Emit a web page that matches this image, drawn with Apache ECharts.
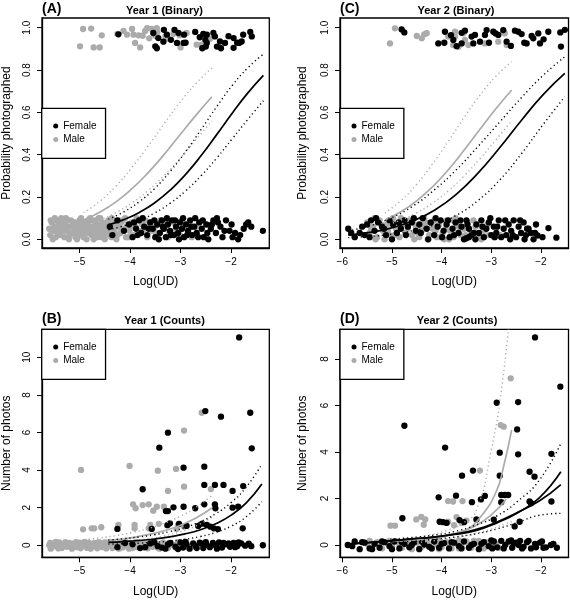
<!DOCTYPE html>
<html>
<head>
<meta charset="utf-8">
<script src="https://cdn.jsdelivr.net/npm/echarts@6/dist/echarts.min.js"></script>
<style>html,body{margin:0;padding:0;background:#fff}#c{width:570px;height:600px}</style>
</head>
<body>
<div id="c"></div>
<script>
// ---------------- DATA ----------------
const sexes = ['Female', 'Male'];
const ticksX_Y1 = [-5, -4, -3, -2];
const ticksX_Y2 = [-6, -5, -4, -3, -2];
const ticksY_bin = [0, 0.2, 0.4, 0.6, 0.8, 1.0];
const ticksY_B = [0, 2, 4, 6, 8, 10];
const ticksY_D = [0, 2, 4, 6, 8];

// Panel A: Year 1 (Binary)
const A_female = [
[-3.54,0.975],[-3.33,0.99],[-3.27,0.967],[-3.44,0.951],[-3.19,0.943],[-3.04,0.975],[-2.93,0.967],[-3.07,0.928],[-2.94,0.928],[-2.71,0.98],[-2.55,0.971],[-2.48,0.967],[-2.35,0.975],[-2.32,0.959],[-2.51,0.943],[-2.48,0.928],[-2.22,0.935],[-2.12,0.928],[-1.95,0.951],[-1.84,0.928],[-1.76,0.967],[-1.79,0.935],[-1.62,0.98],[-1.59,0.959],[-3.50,0.912],[-3.47,0.903],[-2.28,0.911],[-2.20,0.903],[-1.95,0.905],[-2.57,0.903],[-2.50,0.911],[-4.23,0.969],[-3.34,0.934],[-2.90,0.929],[-1.88,0.929],[-3.12,0.99],[-2.62,0.955],[-2.05,0.96],
[-4.40,0.06],[-4.35,0.02],[-4.25,0.09],[-4.12,0.04],[-4.02,0.07],[-3.95,0.01],[-3.88,0.05],[-3.82,0.09],[-3.78,0.03],[-3.72,0.06],[-3.66,0.02],[-3.60,0.08],[-3.55,0.05],[-3.50,0.01],[-3.46,0.07],[-3.41,0.03],[-3.37,0.09],[-3.33,0.05],[-3.29,0.01],[-3.25,0.07],[-3.21,0.04],[-3.17,0.09],[-3.13,0.02],[-3.09,0.06],[-3.05,0.03],[-3.01,0.08],[-2.97,0.05],[-2.93,0.01],[-2.89,0.07],[-2.85,0.04],[-2.81,0.09],[-2.77,0.02],[-2.73,0.06],[-2.68,0.03],[-2.63,0.08],[-2.58,0.05],[-2.54,0.01],[-2.49,0.07],[-2.45,0.00],[-2.40,0.05],[-2.35,0.09],[-2.30,0.03],[-2.26,0.08],[-2.21,0.06],[-2.17,0.01],[-2.10,0.09],[-2.03,0.04],[-1.97,0.01],[-1.92,0.03],[-1.86,0.00],[-1.82,0.02],[-1.75,0.05],[-1.70,0.07],[-1.66,0.08],[-1.37,0.04],
[-3.92,0.08],[-3.85,0.02],[-3.75,0.10],[-3.63,0.05],[-3.52,0.09],[-3.43,0.00],[-3.35,0.06],[-3.27,0.10],[-3.19,0.02],[-3.11,0.09],[-3.03,0.00],[-2.95,0.10],[-2.87,0.02],[-2.79,0.06],[-2.71,0.10],[-2.65,0.01],[-2.56,0.09],[-2.47,0.03],[-2.38,0.07],[-2.28,0.10],[-2.13,0.04],[-1.99,0.07],[-1.60,0.06]
];
const A_male = [
[-4.93,0.994],[-4.77,0.996],[-4.56,0.964],[-4.25,0.971],[-3.96,0.994],[-3.93,0.967],[-3.83,0.964],[-3.66,0.998],[-3.57,0.994],[-3.47,0.998],[-3.46,0.978],[-3.75,0.962],[-3.14,0.971],[-3.02,0.964],[-2.88,0.975],[-2.42,0.948],[-4.99,0.912],[-4.72,0.907],[-4.60,0.907],[-3.90,0.928],[-3.24,0.948],[-2.68,0.92],[-3.80,0.907],[-3.00,0.907],[-4.06,0.967],[-3.50,0.962],[-2.58,0.92],[-3.30,0.96],[-4.13,0.985],[-3.70,0.985],[-3.62,0.95],
[-5.60,0.05],[-5.58,0.02],[-5.55,0.08],[-5.52,0.04],[-5.50,0.06],[-5.47,0.01],[-5.45,0.09],[-5.43,0.03],[-5.40,0.06],[-5.38,0.02],[-5.35,0.08],[-5.33,0.05],[-5.30,0.01],[-5.28,0.07],[-5.25,0.04],[-5.22,0.09],[-5.20,0.02],[-5.18,0.06],[-5.15,0.03],[-5.13,0.08],[-5.10,0.05],[-5.08,0.01],[-5.05,0.07],[-5.03,0.04],[-5.00,0.09],[-4.98,0.02],[-4.96,0.06],[-4.93,0.03],[-4.91,0.08],[-4.88,0.05],[-4.86,0.00],[-4.84,0.07],[-4.81,0.04],[-4.79,0.10],[-4.76,0.02],[-4.74,0.06],[-4.71,0.03],[-4.69,0.09],[-4.66,0.05],[-4.64,0.01],[-4.61,0.07],[-4.58,0.04],[-4.55,0.08],[-4.52,0.02],[-4.49,0.06],[-4.46,0.03],[-4.43,0.09],[-4.40,0.05],[-4.37,0.01],[-4.34,0.07],[-4.31,0.04],[-4.28,0.08],[-4.25,0.02],[-4.22,0.06],[-4.19,0.03],[-4.15,0.09],[-4.12,0.05],[-4.08,0.01],[-4.05,0.07],[-4.01,0.04],[-3.97,0.08],[-3.93,0.02],[-3.89,0.06],[-3.85,0.09],[-3.80,0.03],[-3.76,0.07],[-3.71,0.05],[-3.66,0.01],[-3.61,0.08],[-3.56,0.04],[-3.51,0.06],[-3.45,0.02],[-3.40,0.09],[-3.34,0.05],[-3.28,0.07],[-3.22,0.03],[-3.15,0.08],[-3.08,0.05],[-3.01,0.02],[-2.94,0.07],[-2.86,0.04],[-2.78,0.01],[-2.70,0.06],
[-5.42,0.07],[-5.12,0.03],[-4.95,0.08],[-4.72,0.00],[-4.62,0.10],[-4.47,0.04],[-4.30,0.02],[-4.18,0.08],[-5.27,0.10],[-5.05,0.00],[-4.83,0.09],[-4.56,0.01],[-3.70,0.09],[-3.25,0.01],[-2.98,0.09],[-2.82,0.08],[-2.73,0.02],
[-5.57,0.09],[-5.53,0.00],[-5.49,0.10],[-5.44,0.05],[-5.39,0.03],[-5.36,0.10],[-5.31,0.04],[-5.26,0.06],[-5.21,0.00],[-5.17,0.09],[-5.14,0.06],[-5.09,0.08],[-5.04,0.03],[-5.01,0.05],[-4.97,0.10],[-4.92,0.01],[-4.89,0.07],[-4.85,0.03],[-4.80,0.06],[-4.77,0.09],[-4.73,0.04],[-4.68,0.07],[-4.63,0.03],[-4.59,0.10],[-4.54,0.06],[-4.50,0.00],[-4.45,0.08],[-4.41,0.02],[-4.36,0.10],[-4.32,0.05],[-4.27,0.00],[-4.23,0.09],[-4.17,0.05],[-4.10,0.10],[-4.03,0.01],[-3.95,0.06],[-3.87,0.10],[-3.78,0.04],[-3.63,0.06],[-3.48,0.03],[-3.35,0.08],[-3.12,0.04]
];
const A_femFit = [[-4.43,0.068],[-4.123,0.093],[-3.816,0.127],[-3.509,0.173],[-3.202,0.233],[-2.895,0.308],[-2.588,0.397],[-2.281,0.496],[-1.974,0.597],[-1.667,0.692],[-1.36,0.775]];
const A_femUp  = [[-4.43,0.095],[-4.123,0.130],[-3.816,0.178],[-3.509,0.241],[-3.202,0.322],[-2.895,0.416],[-2.588,0.521],[-2.281,0.628],[-1.974,0.728],[-1.667,0.811],[-1.36,0.875]];
const A_femLo  = [[-4.43,0.045],[-4.123,0.064],[-3.816,0.090],[-3.509,0.125],[-3.202,0.171],[-2.895,0.230],[-2.588,0.302],[-2.281,0.385],[-1.974,0.476],[-1.667,0.567],[-1.36,0.655]];
const A_malFit = [[-4.92,0.091],[-4.6025,0.128],[-4.285,0.176],[-3.9675,0.238],[-3.65,0.313],[-3.3325,0.399],[-3.015,0.493],[-2.6975,0.586],[-2.38,0.674]];
const A_malUp  = [[-4.92,0.125],[-4.6025,0.179],[-4.285,0.250],[-3.9675,0.338],[-3.65,0.438],[-3.3325,0.544],[-3.015,0.646],[-2.6975,0.736],[-2.38,0.810]];
const A_malLo  = [[-4.92,0.065],[-4.6025,0.091],[-4.285,0.126],[-3.9675,0.171],[-3.65,0.229],[-3.3325,0.300],[-3.015,0.381],[-2.6975,0.470],[-2.38,0.560]];

// Panel C: Year 2 (Binary)
const C_female = [
[-4.805,0.992],[-4.751,0.978],[-4.067,0.926],[-3.946,0.929],[-3.933,0.981],[-3.812,0.965],[-3.765,0.942],[-3.698,0.913],[-3.597,0.976],[-3.530,0.986],[-3.597,0.926],[-3.396,0.958],[-3.329,0.966],[-3.362,0.926],[-3.228,0.934],[-3.128,0.966],[-3.094,0.989],[-3.047,0.929],[-2.960,0.981],[-2.913,0.973],[-2.860,0.966],[-2.759,0.989],[-2.692,0.934],[-2.605,0.914],[-2.524,0.986],[-2.457,0.981],[-2.390,0.970],[-2.336,0.929],[-2.289,0.926],[-2.188,0.961],[-2.155,0.950],[-2.054,0.973],[-2.020,0.926],[-1.947,0.945],[-1.853,0.981],[-1.611,0.978],[-1.598,0.911],[-1.52,0.99],
[-5.88,0.05],[-5.75,0.01],[-5.65,0.03],[-5.55,0.02],[-5.50,0.07],[-5.42,0.09],[-5.35,0.04],[-5.28,0.08],[-5.20,0.06],[-5.12,0.02],[-5.05,0.09],[-4.98,0.07],[-4.90,0.03],[-4.82,0.05],[-4.75,0.09],[-4.68,0.06],[-4.60,0.08],[-4.52,0.04],[-4.45,0.07],[-4.38,0.10],[-4.30,0.05],[-4.22,0.08],[-4.15,0.02],[-4.08,0.06],[-4.02,0.09],[-3.96,0.04],[-3.90,0.07],[-3.84,0.01],[-3.78,0.05],[-3.72,0.08],[-3.66,0.03],[-3.60,0.06],[-3.55,0.00],[-3.50,0.005],[-3.45,0.01],[-3.40,0.02],[-3.35,0.03],[-3.50,0.09],[-3.45,0.05],[-3.30,0.07],[-3.25,0.03],[-3.20,0.09],[-3.15,0.01],[-3.10,0.05],[-3.05,0.08],[-3.00,0.02],[-2.95,0.06],[-2.90,0.03],[-2.85,0.09],[-2.80,0.01],[-2.75,0.05],[-2.70,0.02],[-2.65,0.07],[-2.60,0.04],[-2.55,0.09],[-2.50,0.01],[-2.45,0.06],[-2.40,0.03],[-2.35,0.08],[-2.30,0.02],[-2.25,0.05],[-2.20,0.03],[-2.15,0.00],[-2.10,0.07],[-2.07,0.018],[-1.85,0.053],[-1.69,0.008],
[-5.82,0.03],[-5.60,0.06],[-5.45,0.01],[-5.32,0.10],[-5.16,0.05],[-5.00,0.00],[-4.86,0.08],[-4.72,0.02],[-4.56,0.10],[-4.42,0.03],[-4.27,0.00],[-4.12,0.10],[-3.99,0.01],[-3.87,0.09],[-3.75,0.02],[-3.62,0.09],[-3.48,0.07],[-3.32,0.00],[-3.18,0.06],[-3.02,0.10],[-2.88,0.06],[-2.72,0.09],[-2.57,0.02],[-2.42,0.09],[-2.28,0.05],[-2.12,0.03],[-1.97,0.01],[-2.33,0.00],[-2.62,0.00],[-2.93,0.01]
];
const C_male = [
[-5.04,0.926],[-4.94,0.997],[-4.50,0.961],[-4.40,0.95],[-4.35,0.969],[-4.30,0.974],[-3.87,0.958],[-3.77,0.918],[-3.73,0.981],[-3.66,0.910],[-3.56,0.974],[-3.53,0.942],[-3.46,0.918],[-3.13,0.926],[-2.86,0.934],[-2.76,0.981],[-2.73,0.973],[-2.69,0.918],[-3.73,0.958],
[-5.50,0.08],[-5.45,0.03],[-5.38,0.06],[-5.30,0.01],[-5.25,0.09],[-5.18,0.04],[-5.10,0.07],[-5.05,0.02],[-4.98,0.10],[-4.92,0.05],[-4.85,0.01],[-4.78,0.07],[-4.72,0.03],[-4.65,0.09],[-4.60,0.02],[-4.52,0.06],[-4.45,0.01],[-4.40,0.04],[-4.32,0.08],[-4.25,0.02],[-4.18,0.05],[-4.10,0.01],[-4.05,0.07],[-3.98,0.03],[-3.90,0.09],[-3.83,0.04],[-3.76,0.01],[-3.70,0.07],[-3.62,0.02],[-3.55,0.05],[-3.48,0.08],[-3.40,0.03],[-3.32,0.06],[-3.25,0.01],[-3.15,0.04],[-3.05,0.02],[-2.95,0.01],[-5.35,0.10],[-5.15,0.00],[-4.88,0.08],[-4.55,0.00],[-4.35,0.10],[-4.15,0.09],[-3.95,0.00],[-3.72,0.10],
[-5.42,0.05],[-5.33,0.00],[-5.22,0.07],[-5.08,0.04],[-4.95,0.02],[-4.82,0.10],[-4.68,0.05],[-4.58,0.08],[-4.48,0.03],[-4.38,0.07],[-4.28,0.00],[-4.20,0.07],[-4.12,0.04],[-4.02,0.01],[-3.92,0.05],[-3.85,0.00],[-3.78,0.09],[-3.66,0.06],[-3.52,0.02],[-3.36,0.09],[-3.20,0.00],[-3.08,0.07],[-2.82,0.02]
];
const C_femFit = [[-5.88,0.020],[-5.444,0.033],[-5.008,0.054],[-4.572,0.088],[-4.136,0.139],[-3.70,0.214],[-3.264,0.314],[-2.828,0.434],[-2.392,0.563],[-1.956,0.684],[-1.52,0.784]];
const C_femUp  = [[-5.88,0.040],[-5.444,0.064],[-5.008,0.102],[-4.572,0.158],[-4.136,0.236],[-3.70,0.330],[-3.264,0.440],[-2.828,0.555],[-2.392,0.670],[-1.956,0.775],[-1.52,0.863]];
const C_femLo  = [[-5.88,0.008],[-5.444,0.014],[-5.008,0.024],[-4.572,0.041],[-4.136,0.069],[-3.70,0.114],[-3.264,0.184],[-2.828,0.281],[-2.392,0.405],[-1.956,0.543],[-1.52,0.674]];
const C_malFit = [[-5.14,0.091],[-4.821,0.130],[-4.503,0.182],[-4.184,0.248],[-3.865,0.329],[-3.546,0.422],[-3.228,0.520],[-2.909,0.617],[-2.59,0.706]];
const C_malUp  = [[-5.14,0.125],[-4.821,0.183],[-4.503,0.260],[-4.184,0.356],[-3.865,0.464],[-3.546,0.576],[-3.228,0.681],[-2.909,0.770],[-2.59,0.840]];
const C_malLo  = [[-5.14,0.065],[-4.821,0.091],[-4.503,0.126],[-4.184,0.171],[-3.865,0.229],[-3.546,0.300],[-3.228,0.381],[-2.909,0.470],[-2.59,0.560]];

// Panel B: Year 1 (Counts)
const B_female = [
[-1.84,11.06],[-2.51,7.14],[-1.62,7.05],[-2.20,6.84],[-3.25,5.99],[-3.42,5.19],[-1.59,5.16],[-2.94,4.13],[-2.53,4.18],[-3.75,2.98],[-2.53,3.21],[-2.32,3.21],[-2.15,3.21],[-1.97,2.89],[-1.76,3.15],[-3.29,1.82],[-3.25,1.82],[-3.14,2.02],[-2.94,2.05],[-2.71,1.97],[-2.53,2.18],[-2.32,2.18],[-2.31,1.97],[-1.97,2.0],[-1.86,2.05],[-4.25,0.87],[-3.57,0.87],[-3.21,1.17],[-3.03,1.14],[-2.88,1.03],[-2.65,1.03],[-2.48,1.08],[-2.41,0.99],[-2.34,0.9],[-2.26,0.86],[-1.77,0.9],[-3.26,1.07],[-2.57,1.15],
[-4.25,-0.1],[-3.95,0.05],[-3.8,-0.15],[-3.6,0.1],[-3.45,-0.05],[-3.3,-0.18],[-3.2,0.12],[-3.1,-0.08],[-3.0,0.15],[-2.95,-0.12],[-2.88,0.05],[-2.82,-0.18],[-2.75,0.1],[-2.7,-0.05],[-2.62,0.14],[-2.55,-0.15],[-2.48,0.02],[-2.42,-0.1],[-2.36,0.12],[-2.3,-0.02],[-2.24,0.15],[-2.18,-0.12],[-2.1,0.05],[-2.02,-0.08],[-1.95,0.13],[-1.88,-0.05],[-1.8,0.1],[-1.72,-0.02],[-1.65,0.08],[-1.37,0.0],[-3.37,-0.12],[-3.05,-0.2],[-2.58,0.08],[-2.15,0.12],[-1.92,-0.1],
[-4.1,0.12],[-3.7,-0.1],[-3.52,0.16],[-3.25,0.04],[-2.9,0.18],[-2.68,-0.15],[-2.5,0.16],[-2.28,-0.18],[-2.05,0.1],[-1.85,0.15],[-1.6,-0.05]
];
const B_male = [
[-2.58,7.05],[-2.93,6.10],[-4.97,4.01],[-4.01,4.22],[-3.45,3.97],[-3.09,4.06],[-2.93,3.12],[-3.25,2.89],[-2.40,2.99],[-3.94,2.18],[-3.89,1.97],[-3.75,2.14],[-3.63,2.18],[-3.54,1.84],[-3.47,2.05],[-3.33,2.05],[-4.93,0.85],[-4.76,0.9],[-4.71,0.9],[-4.57,0.96],[-4.23,1.08],[-3.91,1.08],[-3.91,0.9],[-3.60,1.08],[-3.43,1.14],[-3.63,0.9],[-3.08,0.86],[-2.93,0.99],[-3.05,1.08],
[-5.6,0.0],[-5.55,-0.12],[-5.5,0.1],[-5.45,-0.05],[-5.4,0.15],[-5.35,-0.15],[-5.3,0.05],[-5.25,-0.08],[-5.2,0.12],[-5.15,-0.18],[-5.1,0.02],[-5.05,-0.1],[-5.0,0.14],[-4.95,-0.03],[-4.9,0.18],[-4.85,-0.14],[-4.8,0.06],[-4.75,-0.06],[-4.7,0.12],[-4.65,-0.16],[-4.6,0.03],[-4.55,-0.1],[-4.5,0.15],[-4.45,-0.02],[-4.4,0.08],[-4.35,-0.15],[-4.3,0.1],[-4.25,-0.05],[-4.2,0.16],[-4.15,-0.12],[-4.1,0.04],[-4.05,-0.08],[-4.0,0.12],[-3.95,-0.15],[-3.9,0.02],[-3.85,-0.1],[-3.8,0.15],[-3.75,-0.04],[-3.7,0.08],[-3.65,-0.16],[-3.6,0.05],[-3.55,-0.08],[-3.5,0.12],[-3.45,-0.13],[-3.4,0.03],[-3.3,-0.05],[-3.2,0.1],[-3.1,-0.12],[-3.0,0.06],[-2.9,-0.08],[-5.58,0.12],[-5.42,-0.17],[-5.28,0.17],[-5.12,0.09],[-4.98,-0.16],[-4.82,0.14],[-4.68,-0.02],[-4.52,0.08],[-4.38,0.17],[-4.22,-0.18],[-4.08,0.16],[-3.92,0.09],
[-5.57,-0.18],[-5.47,0.18],[-5.32,-0.02],[-5.22,0.0],[-5.07,0.17],[-4.92,0.08],[-4.78,-0.18],[-4.62,0.17],[-4.47,-0.17],[-4.32,0.0],[-4.18,0.02],[-4.02,-0.18],[-3.88,0.18],[-3.72,-0.12],[-3.58,0.18],[-3.42,-0.18],[-3.35,0.15],[-3.25,-0.15],[-3.15,0.02],[-3.05,0.16]
];
const B_femFit = [[-4.43,0.150],[-4.126,0.194],[-3.822,0.253],[-3.518,0.334],[-3.214,0.447],[-2.91,0.604],[-2.606,0.827],[-2.302,1.145],[-1.998,1.603],[-1.694,2.272],[-1.39,3.261]];
const B_femUp  = [[-4.43,0.280],[-4.126,0.350],[-3.822,0.441],[-3.518,0.562],[-3.214,0.727],[-2.91,0.950],[-2.606,1.256],[-2.302,1.681],[-1.998,2.275],[-1.694,3.113],[-1.39,4.318]];
const B_femLo  = [[-4.43,0.060],[-4.126,0.082],[-3.822,0.114],[-3.518,0.159],[-3.214,0.225],[-2.91,0.322],[-2.606,0.468],[-2.302,0.686],[-1.998,1.017],[-1.694,1.527],[-1.39,2.321]];
const B_malFit = [[-4.9,0.160],[-4.585,0.219],[-4.27,0.300],[-3.955,0.411],[-3.64,0.563],[-3.325,0.771],[-3.01,1.055],[-2.695,1.446],[-2.38,1.980]];
const B_malUp  = [[-4.9,0.300],[-4.585,0.394],[-4.27,0.517],[-3.955,0.679],[-3.64,0.892],[-3.325,1.171],[-3.01,1.537],[-2.695,2.020],[-2.38,2.651]];
const B_malLo  = [[-4.9,0.080],[-4.585,0.115],[-4.27,0.166],[-3.955,0.239],[-3.64,0.344],[-3.325,0.496],[-3.01,0.714],[-2.695,1.027],[-2.38,1.480]];

// Panel D: Year 2 (Counts)
const D_female = [
[-2.12,8.93],[-1.61,6.81],[-2.89,6.12],[-2.46,6.15],[-4.75,5.13],[-2.48,4.97],[-3.93,4.19],[-2.83,3.97],[-2.46,3.9],[-1.79,3.92],[-3.59,2.98],[-3.37,3.2],[-2.83,2.98],[-2.23,3.15],[-2.13,2.94],[-4.06,2.05],[-3.71,2.12],[-3.39,1.84],[-3.21,1.96],[-3.13,2.11],[-2.80,2.15],[-2.73,2.15],[-2.66,2.15],[-2.80,1.84],[-2.23,1.87],[-1.79,1.87],[-4.79,1.15],[-4.04,1.0],[-3.97,0.98],[-3.64,1.07],[-3.55,0.98],[-2.95,1.09],[-2.53,0.8],[-2.43,1.0],[-3.9,0.95],[-3.3,1.1],[-2.2,1.8],
[-5.89,0.0],[-5.75,0.15],[-5.65,-0.18],[-5.55,0.1],[-5.45,-0.15],[-5.35,0.05],[-5.25,-0.12],[-5.15,0.12],[-5.05,-0.05],[-4.95,0.15],[-4.85,-0.15],[-4.75,0.05],[-4.65,-0.1],[-4.55,0.12],[-4.45,-0.18],[-4.35,0.02],[-4.25,-0.08],[-4.15,0.15],[-4.05,-0.12],[-3.95,0.08],[-3.85,-0.15],[-3.75,0.1],[-3.65,-0.05],[-3.55,0.15],[-3.45,-0.12],[-3.35,0.05],[-3.25,-0.18],[-3.15,0.12],[-3.05,-0.05],[-2.95,0.15],[-2.88,-0.1],[-2.8,0.18],[-2.72,0.0],[-2.65,0.15],[-2.58,-0.12],[-2.5,0.1],[-2.42,0.18],[-2.35,-0.08],[-2.28,0.12],[-2.2,-0.15],[-2.12,0.05],[-1.98,0.15],[-1.9,-0.1],[-1.8,0.0],[-1.68,-0.12],[-3.4,0.0],[-3.0,0.2],[-2.6,0.2],[-2.45,0.0],
[-5.8,-0.05],[-5.6,0.12],[-5.4,-0.18],[-5.2,0.15],[-5.0,-0.18],[-4.8,0.12],[-4.6,0.0],[-4.4,0.15],[-4.2,-0.15],[-4.0,0.05],[-3.8,0.12],[-3.6,-0.15],[-3.2,0.05],[-2.98,-0.15],[-2.75,-0.15],[-2.55,0.05],[-2.38,-0.15],[-2.25,0.18],[-2.1,-0.1],[-2.02,0.1],[-1.95,-0.12],[-1.75,0.05]
];
const D_male = [
[-2.61,7.17],[-2.81,5.16],[-2.75,5.09],[-3.23,3.2],[-3.87,1.89],[-3.77,1.87],[-3.58,1.89],[-5.03,0.83],[-4.94,0.83],[-4.51,1.1],[-4.41,1.21],[-4.33,1.1],[-4.36,0.87],[-3.87,1.0],[-3.7,1.2],[-3.6,0.95],[-3.5,1.05],[-3.75,0.85],
[-5.5,0.05],[-5.4,-0.1],[-5.3,0.12],[-5.2,-0.15],[-5.1,0.08],[-5.0,-0.05],[-4.9,0.15],[-4.8,-0.12],[-4.7,0.05],[-4.6,-0.18],[-4.5,0.1],[-4.4,-0.08],[-4.3,0.15],[-4.2,-0.15],[-4.1,0.02],[-4.0,-0.1],[-3.9,0.12],[-3.8,-0.15],[-3.7,0.05],[-3.6,-0.08],[-3.5,0.15],[-3.4,-0.12],[-3.3,0.1],[-3.2,-0.05],[-3.1,0.12],[-3.0,-0.1],[-2.9,0.05],[-4.45,0.2],[-4.05,0.18],[-3.65,0.2],[-3.25,0.18],[-2.95,0.15],
[-5.45,0.18],[-5.25,0.0],[-5.05,0.18],[-4.85,0.02],[-4.65,0.1],[-4.45,-0.15],[-4.25,0.05],[-4.05,-0.18],[-3.85,0.05],[-3.65,-0.15],[-3.45,0.02],[-3.35,0.18],[-3.15,-0.15],[-3.05,0.02],[-2.85,-0.12]
];
const D_femFit1 = [[-5.89,0.03],[-5.461,0.10],[-5.032,0.18],[-4.603,0.26],[-4.174,0.34],[-3.745,0.45],[-3.316,0.62],[-2.887,0.95],[-2.458,1.40],[-2.029,2.04],[-1.60,3.15]];
const D_femFit2 = [[-5.89,0.05],[-5.461,0.11],[-5.032,0.18],[-4.603,0.26],[-4.174,0.34],[-3.745,0.47],[-3.316,0.66],[-2.887,0.99],[-2.458,1.42],[-2.029,1.90],[-1.60,2.60]];
const D_femUp   = [[-5.032,0.25],[-4.603,0.32],[-4.174,0.42],[-3.745,0.58],[-3.316,0.85],[-2.887,1.25],[-2.458,1.90],[-2.029,2.80],[-1.60,4.37]];
const D_femLo   = [[-5.032,0.10],[-4.603,0.16],[-4.174,0.24],[-3.745,0.34],[-3.316,0.48],[-2.887,0.69],[-2.458,0.98],[-2.029,1.28],[-1.60,1.36]];
const D_malFit1 = [[-5.0,0.15],[-4.7,0.19],[-4.4,0.24],[-4.1,0.31],[-3.8,0.43],[-3.5,0.65],[-3.2,1.25],[-2.9,2.30],[-2.75,3.40],[-2.59,4.95]];
const D_malFit2 = [[-4.5,0.20],[-4.2,0.30],[-3.9,0.42],[-3.6,0.58],[-3.3,0.85],[-3.0,1.30],[-2.7,1.97]];
const D_malUp   = [[-4.5,0.30],[-4.2,0.45],[-3.9,0.62],[-3.6,0.90],[-3.3,1.50],[-3.0,4.10],[-2.8,6.60],[-2.6,10.5]];
const D_malLo   = [[-4.5,0.10],[-4.2,0.17],[-3.9,0.25],[-3.6,0.36],[-3.3,0.50],[-3.0,0.68],[-2.7,0.92],[-2.59,1.00]];

// ---------------- CHART ----------------
const FONT = '"Liberation Sans", Arial, Helvetica, sans-serif';
const BLACK = '#000000', GRAY = '#ababab';
const fmtX = v => (v < 0 ? '\u2212' + Math.abs(v) : String(v));

const panels = [
  { box: [41.7, 18, 227.6, 230], x: [-5.743, -1.243], y: [-0.041, 1.046], tx: ticksX_Y1, ty: ticksY_bin, yfmt: v => v.toFixed(1), yname: 'Probability photographed', ngap: 29 },
  { box: [340, 18, 228.5, 230], x: [-6.046, -1.446], y: [-0.041, 1.046], tx: ticksX_Y2, ty: ticksY_bin, yfmt: v => v.toFixed(1), yname: 'Probability photographed', ngap: 31 },
  { box: [41.7, 329.3, 227.6, 228], x: [-5.743, -1.243], y: [-0.64, 11.49], tx: ticksX_Y1, ty: ticksY_B, yfmt: v => String(v), yname: 'Number of photos', ngap: 29 },
  { box: [340, 329.3, 228.5, 228], x: [-6.046, -1.446], y: [-0.53, 9.28], tx: ticksX_Y2, ty: ticksY_D, yfmt: v => String(v), yname: 'Number of photos', ngap: 31 }
];

const grid = panels.map(p => ({ left: p.box[0], top: p.box[1], width: p.box[2], height: p.box[3], show: true, borderColor: BLACK, borderWidth: 1.3, backgroundColor: 'transparent' }));
const xAxis = panels.map((p, i) => ({
  type: 'value', gridIndex: i, min: p.x[0], max: p.x[1],
  axisLine: { show: true, onZero: false, lineStyle: { color: BLACK, width: 1.3 } },
  axisTick: { show: true, length: 5, lineStyle: { color: BLACK, width: 1 }, customValues: p.tx },
  axisLabel: { customValues: p.tx, formatter: fmtX, fontSize: 10, color: BLACK, margin: 9, fontFamily: FONT },
  splitLine: { show: false },
  name: 'Log(UD)', nameLocation: 'middle', nameGap: 28,
  nameTextStyle: { fontSize: 12, color: BLACK, fontFamily: FONT }
}));
const yAxis = panels.map((p, i) => ({
  type: 'value', gridIndex: i, min: p.y[0], max: p.y[1],
  axisLine: { show: true, onZero: false, lineStyle: { color: BLACK, width: 1.3 } },
  axisTick: { show: true, length: 5, lineStyle: { color: BLACK, width: 1 }, customValues: p.ty },
  axisLabel: { customValues: p.ty, formatter: p.yfmt, rotate: 90, fontSize: 10, color: BLACK, margin: 10, fontFamily: FONT },
  splitLine: { show: false },
  name: p.yname, nameLocation: 'middle', nameGap: p.ngap, nameRotate: 90,
  nameTextStyle: { fontSize: 12, color: BLACK, fontFamily: FONT }
}));

function pts(name, data, color, gi) {
  return { type: 'scatter', name: name, data: data, xAxisIndex: gi, yAxisIndex: gi, symbol: 'circle', symbolSize: 6.3, itemStyle: { color: color, opacity: 1 }, silent: true, z: 3 };
}
function crv(data, color, dotted, gi) {
  return { type: 'line', data: data, xAxisIndex: gi, yAxisIndex: gi, symbol: 'none', smooth: 0.5, clip: true, silent: true, z: 4,
    lineStyle: { color: color, width: dotted ? 1.4 : 1.7, type: dotted ? [1.2, 3] : 'solid' } };
}

const series = [
  pts('Male', A_male, GRAY, 0), pts('Female', A_female, BLACK, 0),
  crv(A_malFit, GRAY, false, 0), crv(A_malUp, GRAY, true, 0), crv(A_malLo, GRAY, true, 0),
  crv(A_femFit, BLACK, false, 0), crv(A_femUp, BLACK, true, 0), crv(A_femLo, BLACK, true, 0),

  pts('Male', C_male, GRAY, 1), pts('Female', C_female, BLACK, 1),
  crv(C_malFit, GRAY, false, 1), crv(C_malUp, GRAY, true, 1), crv(C_malLo, GRAY, true, 1),
  crv(C_femFit, BLACK, false, 1), crv(C_femUp, BLACK, true, 1), crv(C_femLo, BLACK, true, 1),

  pts('Male', B_male, GRAY, 2), pts('Female', B_female, BLACK, 2),
  crv(B_malFit, GRAY, false, 2), crv(B_malUp, GRAY, true, 2), crv(B_malLo, GRAY, true, 2),
  crv(B_femFit, BLACK, false, 2), crv(B_femUp, BLACK, true, 2), crv(B_femLo, BLACK, true, 2),

  pts('Male', D_male, GRAY, 3), pts('Female', D_female, BLACK, 3),
  crv(D_malFit1, GRAY, false, 3), crv(D_malFit2, GRAY, false, 3), crv(D_malUp, GRAY, true, 3), crv(D_malLo, GRAY, true, 3),
  crv(D_femFit1, BLACK, false, 3), crv(D_femFit2, BLACK, false, 3), crv(D_femUp, BLACK, true, 3), crv(D_femLo, BLACK, true, 3)
];

const legendPos = [[41.7, 108.3], [340, 108.3], [41.7, 329.3], [340, 329.3]];
const legend = legendPos.map(p => ({
  left: p[0], top: p[1], orient: 'vertical',
  data: sexes.map(s => ({ name: s, icon: 'circle' })),
  itemWidth: 5, itemHeight: 5, itemGap: 0,
  padding: [11, 9, 12, 11.5],
  borderColor: BLACK, borderWidth: 1.3, borderRadius: 0, backgroundColor: '#ffffff',
  selectedMode: false,
  textStyle: { fontSize: 10, color: BLACK, fontFamily: FONT, lineHeight: 13.5 }
}));

const titles = [
  ['(A)', 42, 9.5, 'Year 1 (Binary)', 164.5, 11],
  ['(C)', 340, 9.5, 'Year 2 (Binary)', 456, 11],
  ['(B)', 42, 319, 'Year 1 (Counts)', 164.5, 320.5],
  ['(D)', 340, 319, 'Year 2 (Counts)', 457, 320.5]
];
const graphic = [];
titles.forEach(t => {
  graphic.push({ type: 'text', x: t[1], y: t[2], style: { text: t[0], font: 'bold 14px ' + FONT, fill: BLACK, align: 'left', verticalAlign: 'middle' } });
  graphic.push({ type: 'text', x: t[4], y: t[5], style: { text: t[3], font: 'bold 11px ' + FONT, fill: BLACK, align: 'center', verticalAlign: 'middle' } });
});

const chart = echarts.init(document.getElementById('c'), null, { renderer: 'canvas' });
chart.setOption({
  animation: false,
  backgroundColor: '#ffffff',
  textStyle: { fontFamily: FONT },
  grid, xAxis, yAxis, legend, series, graphic
});
</script>
</body>
</html>
